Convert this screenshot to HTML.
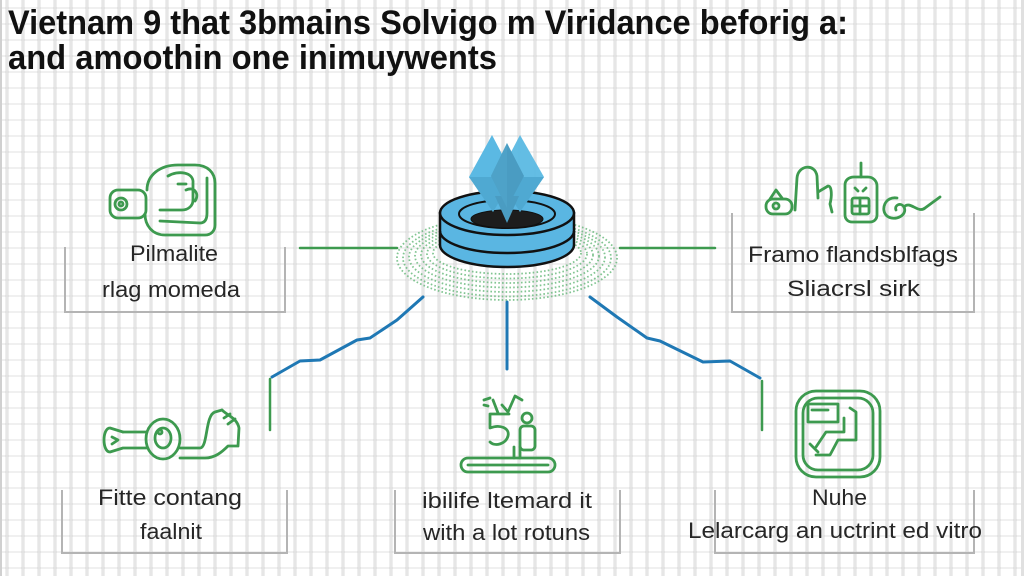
<!DOCTYPE html>
<html>
<head>
<meta charset="utf-8">
<style>
  html,body{margin:0;padding:0;background:#fff;}
  body{width:1024px;height:576px;overflow:hidden;}
  svg{display:block;}
  .t{font-family:"Liberation Sans",Arial,sans-serif;}
</style>
</head>
<body>
<svg width="1024" height="576" viewBox="0 0 1024 576" xmlns="http://www.w3.org/2000/svg">
  <defs>
    <pattern id="grid" x="0" y="0" width="16" height="16" patternUnits="userSpaceOnUse">
      <rect width="16" height="16" fill="#ffffff"/>
      <rect x="5" y="0" width="4" height="16" fill="#eeeeee"/>
      <rect x="6" y="0" width="2" height="16" fill="#e6e6e6"/>
      <rect x="0" y="7" width="16" height="2" fill="#f0f0f0"/>
      <rect x="5" y="7" width="4" height="2" fill="#e2e2e2"/>
    </pattern>
  </defs>
  <rect width="1024" height="576" fill="url(#grid)"/>
  <rect x="0" y="0" width="2" height="576" fill="#d0d0d0"/>
  <rect x="1021" y="0" width="3" height="576" fill="#e0e0e0"/>

  <!-- Title -->
  <text class="t" x="8" y="34" font-size="34" font-weight="bold" fill="#111" textLength="840" lengthAdjust="spacingAndGlyphs">Vietnam 9 that 3bmains Solvigo m Viridance beforig a:</text>
  <text class="t" x="8" y="69" font-size="34" font-weight="bold" fill="#111" textLength="489" lengthAdjust="spacingAndGlyphs">and amoothin one inimuywents</text>

  <!-- Box brackets -->
  <g fill="none" stroke="#b4b4b4" stroke-width="2">
    <path d="M65,247 V312 H285 V247"/>
    <path d="M732,213 V312 H974 V213"/>
    <path d="M62,490 V553 H287 V490"/>
    <path d="M395,490 V553 H620 V490"/>
    <path d="M715,490 V553 H974 V490"/>
  </g>

  <!-- Connectors -->
  <g fill="none" stroke-linecap="round" stroke-linejoin="round">
    <path d="M300,248 H397" stroke="#3d9a4f" stroke-width="2.5"/>
    <path d="M620,248 H715" stroke="#3d9a4f" stroke-width="2.5"/>
    <path d="M423,297 L397,320 L370,338 L357,340 L320,360 L300,361 L272,377" stroke="#1f78b4" stroke-width="3"/>
    <path d="M270,379 V430" stroke="#3d9a4f" stroke-width="2.5"/>
    <path d="M507,302 V369" stroke="#1f78b4" stroke-width="3"/>
    <path d="M590,297 L617,317 L647,338 L660,341 L703,362 L730,361 L760,378" stroke="#1f78b4" stroke-width="3"/>
    <path d="M762,381 V430" stroke="#3d9a4f" stroke-width="2.5"/>
  </g>

  <!-- Dotted halo -->
  <g fill="none" stroke="#6dbb80" stroke-width="1.8" stroke-dasharray="1.6 2.2" opacity="0.85">
    <ellipse cx="507" cy="258" rx="110" ry="42"/>
    <ellipse cx="507" cy="258" rx="104" ry="38.5"/>
    <ellipse cx="507" cy="257" rx="98" ry="35"/>
    <ellipse cx="507" cy="256" rx="92" ry="31.5"/>
    <ellipse cx="507" cy="255" rx="86" ry="28"/>
    <ellipse cx="507" cy="254" rx="80" ry="24.5"/>
    <ellipse cx="507" cy="253" rx="74" ry="21"/>
  </g>

  <!-- Ring -->
  <g stroke="#111" stroke-width="2.5">
    <path d="M440,213 V245 A67,22 0 0 0 574,245 V213 Z" fill="#5ab6e2"/>
    <path d="M440,231 A67,22 0 0 0 574,231" fill="none"/>
    <ellipse cx="507" cy="213" rx="67" ry="22" fill="#5ab6e2"/>
    <ellipse cx="507" cy="214" rx="48" ry="14" fill="#5ab6e2" stroke-width="2"/>
    <ellipse cx="507" cy="219" rx="36" ry="9" fill="#1d1d1d" stroke-width="1"/>
  </g>

  <!-- Crystals -->
  <g>
    <polygon points="492,135 469,177 493,212 514,177" fill="#5bb9e3"/>
    <polygon points="469,177 493,212 514,177" fill="#4fa9d2"/>
    <polygon points="520,135 498,177 520,212 544,177" fill="#5bb9e3" opacity="0.95"/>
    <polygon points="498,177 520,212 544,177" fill="#4fa9d2"/>
    <polygon points="507,143 491,176 507,208 524,176" fill="#4a9cc2"/>
    <polygon points="495,196 507,223 519,196" fill="#4a9cc2"/>
    <polygon points="491,176 507,208 507,143" fill="#52a6cc" opacity="0.6"/>
  </g>

  <!-- Icons -->
  <g fill="none" stroke="#3d9a4f" stroke-width="2.8" stroke-linecap="round" stroke-linejoin="round">
    <!-- Top-left icon -->
    <path d="M147,190 C147,175 160,165 178,165 L195,165 C208,165 215,173 215,183 L215,225 C215,231 211,235 205,235 L165,235 C152,235 145,225 145,214"/>
    <rect x="110" y="190" width="36" height="28" rx="8"/>
    <circle cx="121" cy="204" r="6"/>
    <circle cx="121" cy="204" r="2"/>
    <path d="M168,176 C178,170 194,172 193,183 L193,200 C193,206 188,210 182,210 L160,210"/>
    <path d="M160,221 L200,223 C205,223 207,219 207,213 L207,178"/>
    <path d="M186,190 C194,186 200,194 195,201"/>
    <path d="M178,184 L186,184"/>

    <!-- Top-right icon -->
    <rect x="766" y="199" width="26" height="15" rx="7"/>
    <circle cx="776" cy="206" r="3"/>
    <path d="M770,199 L776,190 L782,198"/>
    <path d="M795,210 L797,178 C798,165 815,163 817,176 L818,198"/>
    <path d="M818,192 L828,186 C832,186 832,196 830,204 L832,212"/>
    <path d="M845,185 C845,180 849,177 854,177 L868,177 C873,177 877,181 877,186 L877,215 C877,219 874,222 870,222 L852,222 C848,222 845,219 845,215 Z"/>
    <path d="M861,177 L861,163"/>
    <rect x="852" y="198" width="17" height="16" rx="2"/>
    <path d="M860,198 V214 M852,206 H869"/>
    <path d="M855,188 L858,191 M866,188 L863,191"/>
    <path d="M897,198 C885,196 880,210 887,216 C895,222 908,215 904,207 C901,202 894,205 896,210"/>
    <path d="M904,207 C910,200 918,214 925,208 L940,197"/>

    <!-- Bottom-left icon -->
    <path d="M123,432 L110,428 C102,428 102,452 110,452 L123,448 L147,448"/>
    <path d="M123,432 L147,432"/>
    <path d="M112,437 L118,440 L112,444"/>
    <ellipse cx="163" cy="439" rx="17" ry="20"/>
    <ellipse cx="163" cy="438" rx="8" ry="10"/>
    <circle cx="160" cy="432" r="2"/>
    <path d="M180,448 L200,448 C208,448 205,415 215,412 L222,410"/>
    <path d="M180,458 L205,458 C215,458 222,452 228,446 L238,446 L239,428 C237,418 228,416 222,410"/>
    <path d="M224,418 L230,414 M228,424 L235,419"/>

    <!-- Bottom-middle icon -->
    <rect x="461" y="458" width="94" height="14" rx="7"/>
    <path d="M468,465 H548"/>
    <path d="M514,447 V458 M520,447 V458"/>
    <circle cx="527" cy="418" r="5"/>
    <rect x="520" y="426" width="15" height="24" rx="4"/>
    <path d="M509,414 H490 V428 C500,424 510,428 508,436 C506,444 495,447 490,442"/>
    <path d="M498,413 L493,400 M502,405 L508,412 L515,396 L522,400"/>
    <path d="M484,400 L490,398 M484,405 L488,406"/>

    <!-- Bottom-right icon -->
    <rect x="796" y="391" width="84" height="86" rx="20"/>
    <rect x="803" y="398" width="70" height="72" rx="15"/>
    <path d="M808,404 H838 V422 H808 Z"/>
    <path d="M812,410 H828"/>
    <path d="M850,408 L856,412 L856,440 L838,440 L830,455 L816,455"/>
    <path d="M844,418 V432 L826,432 L816,447"/>
    <path d="M810,444 L818,452"/>
  </g>

  <!-- Labels -->
  <g class="t" font-size="22" fill="#262626">
    <text x="130" y="261" textLength="88" lengthAdjust="spacingAndGlyphs">Pilmalite</text>
    <text x="102" y="297" textLength="138" lengthAdjust="spacingAndGlyphs">rlag momeda</text>
    <text x="748" y="262" textLength="210" lengthAdjust="spacingAndGlyphs">Framo flandsblfags</text>
    <text x="787" y="296" textLength="133" lengthAdjust="spacingAndGlyphs">Sliacrsl sirk</text>
    <text x="98" y="505" textLength="144" lengthAdjust="spacingAndGlyphs">Fitte contang</text>
    <text x="140" y="539" textLength="62" lengthAdjust="spacingAndGlyphs">faalnit</text>
    <text x="422" y="508" textLength="170" lengthAdjust="spacingAndGlyphs">ibilife ltemard it</text>
    <text x="423" y="540" textLength="167" lengthAdjust="spacingAndGlyphs">with a lot rotuns</text>
    <text x="812" y="505" textLength="55" lengthAdjust="spacingAndGlyphs">Nuhe</text>
    <text x="688" y="538" textLength="294" lengthAdjust="spacingAndGlyphs">Lelarcarg an uctrint ed vitro</text>
  </g>
</svg>
</body>
</html>
